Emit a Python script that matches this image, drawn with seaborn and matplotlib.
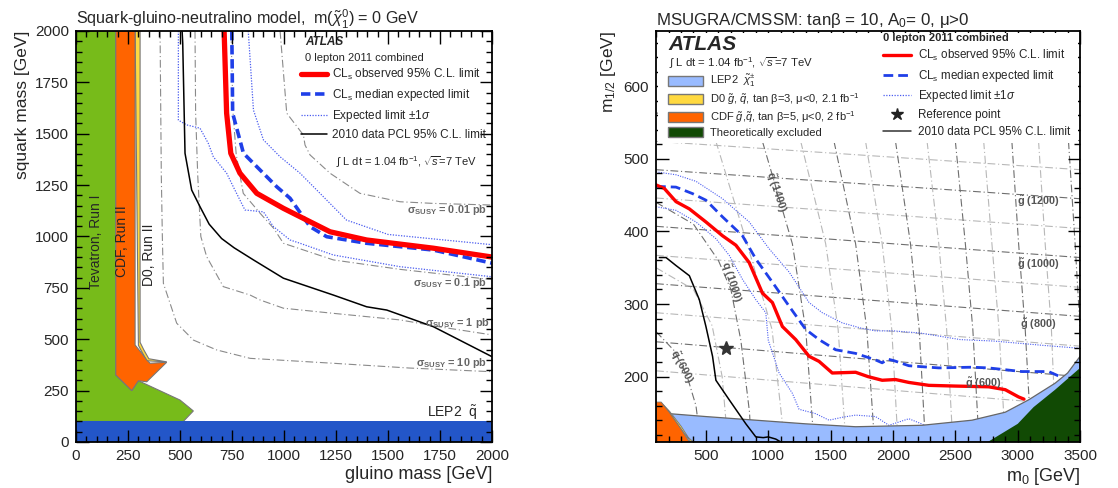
import matplotlib
matplotlib.use("Agg")
import matplotlib.pyplot as plt
import seaborn as sns
from matplotlib.patches import Patch, Rectangle
from matplotlib.lines import Line2D
from matplotlib.ticker import MultipleLocator

sns.set_style("ticks")
plt.rcParams['font.family'] = ['Liberation Sans', 'DejaVu Sans']
plt.rcParams['mathtext.fontset'] = 'custom'
plt.rcParams['mathtext.rm'] = 'Liberation Sans'
plt.rcParams['mathtext.it'] = 'Liberation Sans:italic'
plt.rcParams['mathtext.bf'] = 'Liberation Sans:bold'

# ---------------- left panel data (gluino mass, squark mass) ----------------
obs_gl_x = [712, 724, 744, 788, 869, 997, 1109, 1221, 1397, 1718, 2000]
obs_gl_y = [2000, 1600, 1405, 1308, 1210, 1137, 1080, 1023, 983, 943, 900]
exp_gl_x = [749, 753, 805, 853, 965, 1029, 1125, 1205, 1397, 1718, 2000]
exp_gl_y = [2000, 1600, 1405, 1356, 1242, 1186, 1048, 999, 967, 934, 870]
up_gl_x = [828, 853, 901, 981, 1077, 1173, 1300, 1500, 1750, 2000]
up_gl_y = [2000, 1615, 1470, 1388, 1308, 1210, 1080, 1010, 985, 960]
dn_gl_x = [492, 492, 532, 596, 636, 660, 724, 756, 812, 901, 949, 1029, 1077, 1237, 1558, 2000]
dn_gl_y = [2000, 1566, 1543, 1527, 1453, 1388, 1308, 1242, 1129, 1120, 1048, 983, 967, 910, 853, 804]
pcl_gl_x = [510, 513, 524, 556, 596, 640, 700, 760, 853, 997, 1237, 1397, 1494, 1718, 2000]
pcl_gl_y = [2000, 1940, 1405, 1226, 1145, 1060, 990, 945, 886, 797, 715, 658, 642, 561, 415]

xs001_x = [981, 1013, 1093, 1101, 1125, 1221, 1365, 1558, 1718, 2000]
xs001_y = [2000, 1600, 1494, 1445, 1397, 1308, 1210, 1169, 1161, 1153]
xs01_x = [745, 755, 770, 804, 885, 950, 997, 1237, 1558, 2000]
xs01_y = [2000, 1600, 1400, 1210, 1113, 1040, 967, 886, 840, 790]
xs1_x = [572, 575, 585, 600, 628, 708, 837, 885, 997, 1237, 1558, 1750, 2000]
xs1_y = [2000, 1600, 1300, 1000, 902, 756, 715, 691, 651, 626, 594, 560, 521]
xs10_x = [404, 410, 415, 420, 484, 564, 676, 837, 1237, 1600, 2000]
xs10_y = [2000, 1300, 1000, 772, 578, 496, 448, 407, 383, 360, 342]

tev1_x = [0, 0, 191, 191, 268, 300, 500, 564, 516]
tev1_y = [100, 2000, 2000, 326, 250, 298, 204, 151, 100]
cdf_x = [191, 284, 284, 316, 340, 356, 436, 340, 300, 268, 191]
cdf_y = [2000, 2000, 472, 432, 399, 383, 388, 293, 298, 250, 326]
d0_x = [284, 308, 308, 325, 350, 436, 340, 300]
d0_y = [2000, 2000, 485, 450, 405, 390, 395, 470]
lep_sq_top = 100

# ---------------- right panel data (m0, m1/2) ----------------
obs_m0 = [100, 167, 260, 367, 500, 633, 740, 847, 953, 1033, 1113, 1220, 1327, 1407, 1513,
          1700, 1800, 1913, 2020, 2127, 2287, 2500, 2767, 2900, 3007, 3050]
obs_m12 = [464, 459, 441, 431, 413, 394, 381, 357, 315, 302, 269, 251, 228, 221, 205,
           206, 200, 195, 196, 192, 188, 187, 186, 182, 172, 169]
exp_m0 = [100, 260, 393, 500, 633, 793, 900, 1033, 1167, 1300, 1407, 1540, 1700, 1860,
          1913, 1960, 2007, 2127, 2367, 2633, 2767, 2927, 3033, 3247, 3340]
exp_m12 = [462, 461, 452, 443, 420, 394, 362, 330, 297, 265, 251, 237, 232, 223,
           219, 224, 222, 215, 212, 213, 212, 209, 207, 207, 200]
up_m0 = [100, 260, 420, 633, 847, 1007, 1167, 1327, 1433, 1593, 1740, 1860, 2007, 2220,
         2540, 2807, 3207, 3500]
up_m12 = [482, 478, 469, 445, 413, 376, 344, 302, 288, 274, 267, 263, 263, 260,
          251, 249, 243, 239]
dn_m0 = [100, 260, 420, 580, 687, 793, 900, 980, 1000, 1087, 1193, 1247, 1380, 1487,
         1593, 1700, 1860, 1967, 2127, 2300]
dn_m12 = [434, 429, 413, 390, 367, 334, 306, 288, 250, 205, 177, 155, 149, 140,
          144, 147, 145, 133, 142, 130]
pcl_m0 = [127, 180, 260, 367, 447, 500, 553, 580, 687, 820, 900, 960, 1000, 1060, 1100]
pcl_m12 = [364, 364, 353, 339, 306, 269, 228, 195, 168, 135, 117, 116, 117, 114, 110]
ref_point = (660, 240)

lep_m0 = [100, 207, 500, 900, 1300, 1700, 2233, 2633, 2900, 3087, 3300, 3400, 3500, 3500, 100]
lep_m12 = [152, 149, 145, 140, 135, 131, 133, 140, 151, 168, 191, 205, 228, 110, 110]
theo_m0 = [2760, 3000, 3127, 3300, 3500, 3500]
theo_m12 = [110, 135, 158, 182, 212, 110]
cdf_m0 = [100, 100, 140, 210, 300, 360, 380]
cdf_m12 = [110, 165, 165, 150, 128, 112, 110]
d0_m0 = [140, 210, 300, 360, 400, 380, 300, 210]
d0_m12 = [165, 152, 132, 116, 110, 110, 128, 150]

gluino_mass = [500, 600, 700, 800, 900, 1000, 1100, 1200, 1300, 1400]
gluino_m12_left = [208, 248, 288, 328, 367, 407, 446, 485, 524, 563]
gluino_m12_right = [160, 200, 242, 283, 323, 364, 404, 445, 485, 525]

squark_levels = [524, 383, 265, 140, 110]
squark_mass = [1200, 1400, 1600, 1800, 2000, 2200, 2400, 2600, 2800, 3000, 3200, 3400]
squark_m0 = [
    [580, 830, 1030, 1110, 1120],
    [953, 1193, 1300, 1353, 1365],
    [1260, 1460, 1560, 1610, 1620],
    [1527, 1700, 1790, 1840, 1850],
    [1780, 1913, 1990, 2030, 2040],
    [2020, 2140, 2210, 2250, 2260],
    [2273, 2367, 2430, 2470, 2480],
    [2500, 2580, 2640, 2680, 2690],
    [2727, 2793, 2850, 2890, 2900],
    [2953, 3007, 3060, 3100, 3110],
    [3167, 3220, 3270, 3300, 3310],
    [3407, 3460, 3500, 3530, 3540],
]
q1000_m0 = [100, 400, 600, 700, 780, 850, 860]
q1000_m12 = [440, 410, 360, 320, 250, 150, 110]
q800_m0 = [100, 400, 550, 630, 660, 670]
q800_m12 = [350, 320, 270, 200, 140, 110]
q600_m0 = [100, 250, 350, 420, 450, 455]
q600_m12 = [262, 235, 200, 160, 120, 110]

# colours
RED = '#ff0000'
BLUE = '#1f3fe8'
DOT = '#4a5cf0'
GRAY_DARK = '#6e6e6e'
GRAY_LIGHT = '#b8b8b8'
EDGE = '#777777'

fig = plt.figure(figsize=(11.18, 4.88), dpi=100)
ax1 = fig.add_axes([0.068, 0.0943, 0.3721, 0.8422])
ax2 = fig.add_axes([0.5868, 0.0943, 0.3793, 0.8422])


def style_axes(ax, xmaj, xmin, ymaj, ymin):
    ax.set_axisbelow(False)
    ax.xaxis.set_major_locator(MultipleLocator(xmaj))
    ax.xaxis.set_minor_locator(MultipleLocator(xmin))
    ax.yaxis.set_major_locator(MultipleLocator(ymaj))
    ax.yaxis.set_minor_locator(MultipleLocator(ymin))
    ax.tick_params(which='both', direction='in', top=True, right=True,
                   labelsize=11, color='black', width=1.0, pad=5)
    ax.tick_params(which='major', length=9)
    ax.tick_params(which='minor', length=4.5)
    for sp in ax.spines.values():
        sp.set_linewidth(1.3)
        sp.set_color('black')


# ================= left panel =================
ax = ax1
ax.fill(tev1_x, tev1_y, color='#77bb1a', ec=EDGE, lw=0.8, zorder=1.4)
ax.fill(d0_x, d0_y, color='#ffd940', ec=EDGE, lw=0.8, zorder=1.45)
ax.fill(cdf_x, cdf_y, color='#ff6400', ec=EDGE, lw=0.8, zorder=1.5)
ax.axhspan(0, lep_sq_top, color='#2356c8', lw=0, zorder=1.6)

dashdot = (0, (7, 2.5, 1, 2.5))
for xx, yy in [(xs001_x, xs001_y), (xs01_x, xs01_y), (xs1_x, xs1_y), (xs10_x, xs10_y)]:
    ax.plot(xx, yy, color='#8a8a8a', lw=0.8, ls=dashdot, zorder=1.2)

sns.lineplot(x=dn_gl_x, y=dn_gl_y, sort=False, estimator=None, ax=ax,
             color=DOT, lw=0.9, ls=(0, (1, 1.2)), zorder=2)
sns.lineplot(x=up_gl_x, y=up_gl_y, sort=False, estimator=None, ax=ax,
             color=DOT, lw=0.9, ls=(0, (1, 1.2)), zorder=2)
sns.lineplot(x=pcl_gl_x, y=pcl_gl_y, sort=False, estimator=None, ax=ax,
             color='black', lw=1.1, zorder=2)
sns.lineplot(x=exp_gl_x, y=exp_gl_y, sort=False, estimator=None, ax=ax,
             color=BLUE, lw=2.6, ls=(0, (2.6, 1.3)), zorder=2.1)
sns.lineplot(x=obs_gl_x, y=obs_gl_y, sort=False, estimator=None, ax=ax,
             color=RED, lw=3.8, zorder=2.2)

ax.set_xlim(0, 2000)
ax.set_ylim(0, 2000)
style_axes(ax, 250, 50, 250, 50)
ax.set_xlabel('gluino mass [GeV]', fontsize=13, loc='right', labelpad=2)
ax.set_ylabel('squark mass [GeV]', fontsize=12.5, loc='top')
ax.set_title(r'Squark-gluino-neutralino model,  m($\tilde{\chi}^{0}_{1}$) = 0 GeV',
             fontsize=11.6, loc='left', pad=4)

ax.text(95, 975, 'Tevatron, Run I', rotation=90, ha='center', va='center', fontsize=10)
ax.text(222, 975, 'CDF, Run II', rotation=90, ha='center', va='center', fontsize=10)
ax.text(350, 910, 'D0, Run II', rotation=90, ha='center', va='center', fontsize=10)
ax.text(1930, 145, r'LEP2  $\tilde{\mathrm{q}}$', ha='right', va='center', fontsize=10)

lbl = dict(ha='right', va='center', fontsize=7.8, color='#666666', fontweight='bold')
ax.text(1975, 1130, r'$\mathbf{\sigma_{SUSY}}$ = 0.01 pb', **lbl)
ax.text(1975, 775, r'$\mathbf{\sigma_{SUSY}}$ = 0.1 pb', **lbl)
ax.text(1990, 580, r'$\mathbf{\sigma_{SUSY}}$ = 1 pb', **lbl)
ax.text(1975, 385, r'$\mathbf{\sigma_{SUSY}}$ = 10 pb', **lbl)

ax.text(0.55, 0.972, 'ATLAS', transform=ax.transAxes, fontsize=8.5,
        fontweight='bold', fontstyle='italic', va='center')
ax.text(0.55, 0.934, '0 lepton 2011 combined', transform=ax.transAxes,
        fontsize=8, va='center')
ax.text(0.625, 0.681, r'$\int$ L dt = 1.04 fb$^{-1}$, $\sqrt{s}$=7 TeV',
        transform=ax.transAxes, fontsize=8, va='center')
h_left = [
    Line2D([], [], color=RED, lw=3.8),
    Line2D([], [], color=BLUE, lw=2.6, ls=(0, (2.6, 1.3))),
    Line2D([], [], color=DOT, lw=0.9, ls=(0, (1, 1.2))),
    Line2D([], [], color='black', lw=1.1),
]
lab_left = [r'CL$_{\mathrm{s}}$ observed 95% C.L. limit',
            r'CL$_{\mathrm{s}}$ median expected limit',
            r'Expected limit $\pm$1$\sigma$',
            '2010 data PCL 95% C.L. limit']
ax.legend(h_left, lab_left, loc='upper left', bbox_to_anchor=(0.535, 0.918),
          frameon=False, fontsize=8.5, handlelength=2.2, handletextpad=0.45,
          labelspacing=0.42, borderaxespad=0, borderpad=0.2)

# ================= right panel =================
ax = ax2
for m, a, b in zip(gluino_mass, gluino_m12_left, gluino_m12_right):
    c = GRAY_DARK if m % 200 == 0 else GRAY_LIGHT
    ax.plot([100, 3500], [a, b], color=c, lw=0.8, ls=dashdot, zorder=1.1)
for m, xs in zip(squark_mass, squark_m0):
    c = GRAY_DARK if m % 400 == 200 else GRAY_LIGHT
    ax.plot(xs, squark_levels, color=c, lw=0.8, ls=dashdot, zorder=1.1)
ax.plot(q1000_m0, q1000_m12, color=GRAY_DARK, lw=0.8, ls=dashdot, zorder=1.1)
ax.plot(q800_m0, q800_m12, color=GRAY_LIGHT, lw=0.8, ls=dashdot, zorder=1.1)
ax.plot(q600_m0, q600_m12, color=GRAY_DARK, lw=0.8, ls=dashdot, zorder=1.1)

sns.lineplot(x=dn_m0, y=dn_m12, sort=False, estimator=None, ax=ax,
             color=DOT, lw=0.8, ls=(0, (1, 1.2)), zorder=1.3)
ax.fill(lep_m0, lep_m12, color='#99bbff', ec='#666666', lw=0.9, zorder=1.5)
ax.fill(theo_m0, theo_m12, color='#114a04', lw=0, zorder=1.55)
ax.fill(d0_m0, d0_m12, color='#ffd940', ec=EDGE, lw=0.6, zorder=1.6)
ax.fill(cdf_m0, cdf_m12, color='#ff6400', ec=EDGE, lw=0.6, zorder=1.65)

sns.lineplot(x=up_m0, y=up_m12, sort=False, estimator=None, ax=ax,
             color=DOT, lw=0.8, ls=(0, (1, 1.2)), zorder=2)
sns.lineplot(x=pcl_m0, y=pcl_m12, sort=False, estimator=None, ax=ax,
             color='black', lw=1.1, zorder=2)
sns.lineplot(x=exp_m0, y=exp_m12, sort=False, estimator=None, ax=ax,
             color=BLUE, lw=2.0, ls=(0, (3.5, 1.8)), zorder=2.1)
sns.lineplot(x=obs_m0, y=obs_m12, sort=False, estimator=None, ax=ax,
             color=RED, lw=2.4, zorder=2.2)
ax.plot([ref_point[0]], [ref_point[1]], marker='*', ms=10, color='#333333',
        lw=0, zorder=2.3)

glbl = dict(fontsize=7.8, color='#555555', fontweight='bold', va='center')
ax.text(3164, 441, r'$\mathbf{\tilde{g}}$ (1200)', ha='center', **glbl)
ax.text(3164, 355, r'$\mathbf{\tilde{g}}$ (1000)', ha='center', **glbl)
ax.text(3164, 272, r'$\mathbf{\tilde{g}}$ (800)', ha='center', **glbl)
ax.text(2727, 191, r'$\mathbf{\tilde{g}}$ (600)', ha='center', **glbl)
ax.text(1060, 455, r'$\mathbf{\tilde{q}}$ (1400)', ha='center', rotation=-72, **glbl)
ax.text(700, 330, r'$\mathbf{\tilde{q}}$ (1000)', ha='center', rotation=-72, **glbl)
ax.text(300, 214, r'$\mathbf{\tilde{q}}$ (600)', ha='center', rotation=-62, **glbl)

ax.set_xlim(100, 3500)
ax.set_ylim(110, 676)
style_axes(ax, 500, 100, 100, 20)
ax.set_xlabel(r'm$_{0}$ [GeV]', fontsize=13, loc='right', labelpad=2)
ax.set_ylabel(r'm$_{1/2}$ [GeV]', fontsize=12.5, loc='top')
ax.set_title(r'MSUGRA/CMSSM: tanβ = 10, A$_{0}$= 0, μ>0', fontsize=12.2, loc='left', pad=4)

# white legend area covering the top of the plane
ax.add_patch(Rectangle((0.004, (522 - 110) / (676 - 110)), 0.992,
                       1 - (522 - 110) / (676 - 110) - 0.004,
                       transform=ax.transAxes, fc='white', ec='none', zorder=4))
ax.text(0.03, 0.968, 'ATLAS', transform=ax.transAxes, fontsize=15,
        fontweight='bold', fontstyle='italic', va='center', zorder=5)
ax.text(0.03, 0.922, r'$\int$ L dt = 1.04 fb$^{-1}$, $\sqrt{s}$=7 TeV',
        transform=ax.transAxes, fontsize=8.2, va='center', zorder=5)
h_box = [Patch(fc='#99bbff', ec=EDGE), Patch(fc='#ffd940', ec=EDGE),
         Patch(fc='#ff6400', ec=EDGE), Patch(fc='#114a04', ec=EDGE)]
lab_box = [r'LEP2  $\tilde{\chi}^{\pm}_{1}$',
           r'D0 $\tilde{g}$, $\tilde{q}$, tan β=3, μ<0, 2.1 fb$^{-1}$',
           r'CDF $\tilde{g}$,$\tilde{q}$, tan β=5, μ<0, 2 fb$^{-1}$',
           'Theoretically excluded']
leg_box = ax.legend(h_box, lab_box, loc='upper left', bbox_to_anchor=(0.025, 0.9),
                    frameon=False, fontsize=8, handlelength=3.2, handleheight=1.0,
                    handletextpad=0.6, labelspacing=0.18, borderaxespad=0, borderpad=0.1)
leg_box.set_zorder(5)
ax.add_artist(leg_box)

h_right = [
    Line2D([], [], color=RED, lw=2.4),
    Line2D([], [], color=BLUE, lw=2.0, ls=(0, (3.5, 1.8))),
    Line2D([], [], color=DOT, lw=0.9, ls=(0, (1, 1.2))),
    Line2D([], [], color='#222222', marker='*', ms=9, lw=0),
    Line2D([], [], color='#333333', lw=1.1),
]
lab_right = [r'CL$_{\mathrm{s}}$ observed 95% C.L. limit',
             r'CL$_{\mathrm{s}}$ median expected limit',
             r'Expected limit $\pm$1$\sigma$',
             'Reference point',
             '2010 data PCL 95% C.L. limit']
leg_r = ax.legend(h_right, lab_right, loc='upper left', bbox_to_anchor=(0.53, 1.0),
                  frameon=False, fontsize=8.4, handlelength=2.4, handletextpad=0.6,
                  labelspacing=0.4, borderaxespad=0, borderpad=0.2,
                  title='0 lepton 2011 combined',
                  title_fontproperties={'weight': 'bold', 'size': 8})
leg_r._legend_box.align = 'left'
leg_r.set_zorder(5)

fig.savefig('out.png', dpi=100)
